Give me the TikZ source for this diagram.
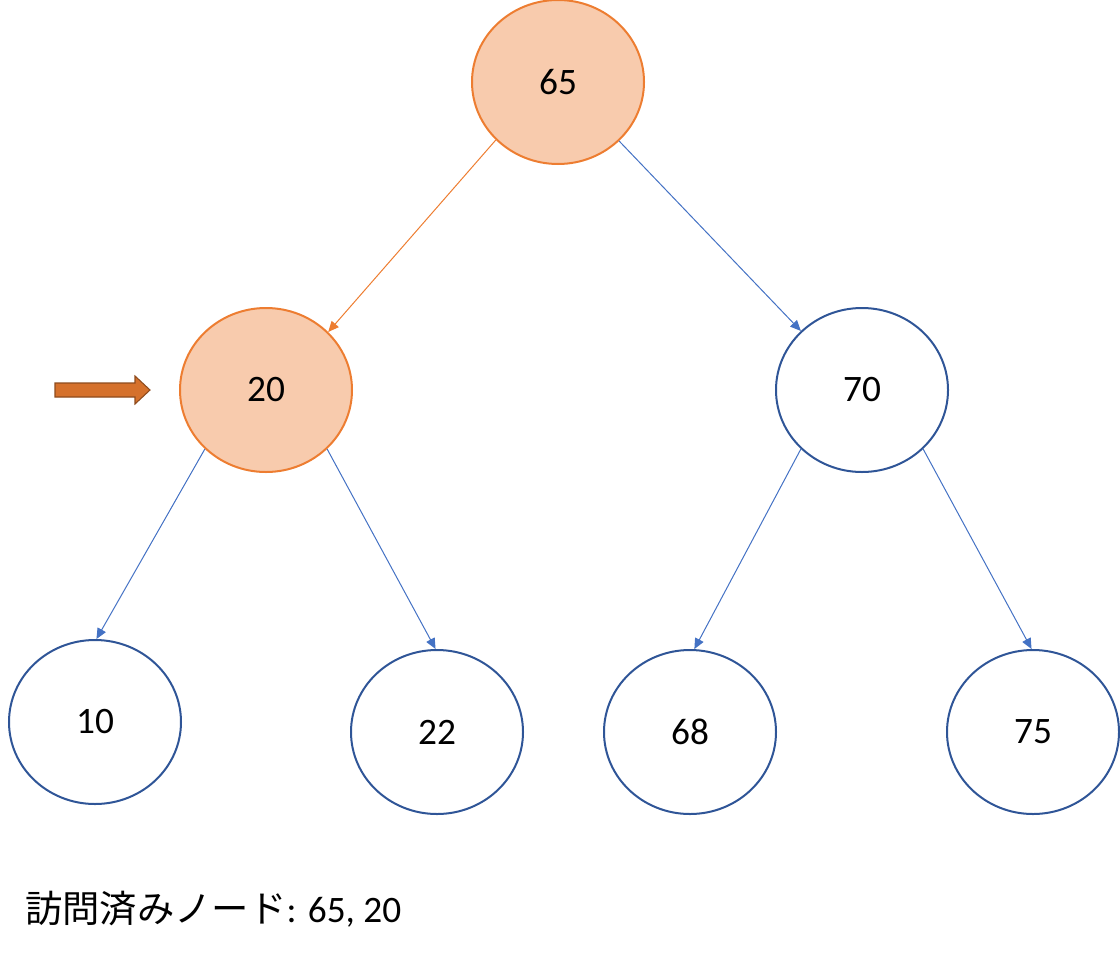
\documentclass[tikz,border=0pt]{standalone}
\usepackage{fontspec}
\setmainfont{Carlito}
\newfontfamily\cjk{Noto Sans CJK JP}
\usetikzlibrary{shapes.geometric,arrows.meta}
\definecolor{ofill}{HTML}{F8CBAD}
\definecolor{oline}{HTML}{ED7D31}
\definecolor{bline}{HTML}{2F5597}
\definecolor{bedge}{HTML}{4472C4}
\begin{document}
\begin{tikzpicture}[x=0.75pt,y=-0.75pt,
  nd/.style={ellipse,draw=bline,line width=1.5pt,minimum width=129pt,minimum height=123pt,inner sep=0pt,font=\fontsize{28}{30}\selectfont},
  vis/.style={nd,draw=oline,fill=ofill},
  ed/.style={draw=bedge,line width=0.75pt,-{Triangle[length=8pt,width=7pt]}},
  oed/.style={ed,draw=oline,-{Triangle[length=8pt,width=7pt]},color=oline}]
\useasboundingbox (0,0) rectangle (1120,960);
\node[vis] (n65) at (558,82) {65};
\node[vis] (n20) at (266,390) {20};
\node[nd] (n70) at (862,390) {70};
\node[nd] (n10) at (95,722) {10};
\node[nd] (n22) at (437,732) {22};
\node[nd] (n68) at (690,732) {68};
\node[nd] (n75) at (1033,732) {75};
\draw[oed] (n65.223) -- (n20.43);
\draw[ed,color=bedge] (n65.316) -- (n70.136);
\draw[ed,color=bedge] (n20.224) -- (n10.89);
\draw[ed,color=bedge] (n20.316) -- (n22.91);
\draw[ed,color=bedge] (n70.224) -- (n68.87);
\draw[ed,color=bedge] (n70.316) -- (n75.91);
\draw[fill=oline!90!black,draw=oline!60!black,line width=0.8pt]
  (55,383) -- (135,383) -- (135,376) -- (150,390) -- (135,404) -- (135,397) -- (55,397) -- cycle;
\node[anchor=base west,inner sep=0pt,font=\fontsize{28}{30}\selectfont] (cap) at (25,922) {{\cjk 訪問済みノード}: 65, 20};
\end{tikzpicture}
\end{document}
